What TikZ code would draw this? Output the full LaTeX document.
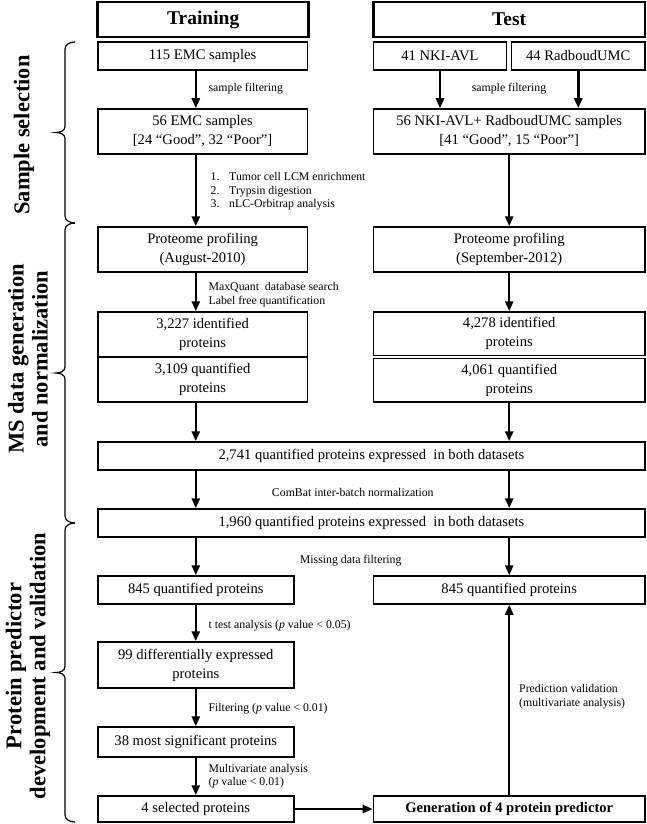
\documentclass[tikz,border=0pt]{standalone}
\usepackage{fontspec}
\setmainfont{Liberation Serif}
\usepackage{tikz}
\usetikzlibrary{arrows.meta}

\begin{document}
\begin{tikzpicture}[x=1pt,y=-1pt,
  box/.style={draw,line width=1.5pt,align=center,inner sep=0pt,font=\fontsize{14.6}{19}\selectfont},
  head/.style={draw,line width=2.8pt,inner sep=0pt,font=\fontsize{19.5}{22}\selectfont\bfseries},
  arr/.style={line width=2.5pt,-{Triangle[length=10pt,width=8pt]}},
  lab/.style={inner sep=0pt,align=left,font=\fontsize{11.8}{13.5}\selectfont},
  side/.style={rotate=90,align=center,font=\fontsize{22.5}{24}\selectfont\bfseries},
  brc/.style={line width=1.2pt}]
\useasboundingbox (0,0) rectangle (647,824);

% column heads
\node [head,minimum width=210.8,minimum height=35] (train) at (203.2,19.5) {Training};
\node [head,minimum width=271.6,minimum height=35] (test) at (509.2,19.5) {Test};

% sample selection
\node [box,minimum width=209.6,minimum height=28] (emc115) at (202.6,56) {115 EMC samples};
\node [box,minimum width=133.3,minimum height=28] (nki41) at (440,56) {41 NKI-AVL};
\node [box,minimum width=133.3,minimum height=28] (rad44) at (578.3,56) {44 RadboudUMC};
\node [box,minimum width=209.6,minimum height=45] (emc56) at (202.6,131.5) {56 EMC samples\\{}[24 “Good”, 32 “Poor”]};
\node [box,minimum width=271.6,minimum height=45] (nki56) at (509.2,131.5) {56 NKI-AVL+ RadboudUMC samples\\{}[41 “Good”, 15 “Poor”]};

% MS data
\node [box,minimum width=209.6,minimum height=45] (profL) at (202.6,249.5) {Proteome profiling\\(August-2010)};
\node [box,minimum width=271.6,minimum height=45] (profR) at (509.2,249.5) {Proteome profiling\\(September-2012)};
\node [box,minimum width=209.6,minimum height=45] (idL) at (202.6,334.5) {3,227 identified\\proteins};
\node [box,minimum width=209.6,minimum height=45] (quL) at (202.6,379.5) {3,109 quantified\\proteins};
\node [box,minimum width=271.6,minimum height=43.5] (idR) at (509.2,333.75) {4,278 identified\\proteins};
\node [box,minimum width=271.6,minimum height=43.5] (quR) at (509.2,380.25) {4,061 quantified\\proteins};
\node [box,minimum width=547.2,minimum height=28] (both2741) at (371.4,456) {2,741 quantified proteins expressed\ \ in both datasets};
\node [box,minimum width=547.2,minimum height=28] (both1960) at (371.4,523) {1,960 quantified proteins expressed\ \ in both datasets};

% predictor
\node [box,minimum width=196,minimum height=28] (q845L) at (195.8,590) {845 quantified proteins};
\node [box,minimum width=271.6,minimum height=28] (q845R) at (509.2,590) {845 quantified proteins};
\node [box,minimum width=196,minimum height=46] (diff99) at (195.8,665) {99 differentially expressed\\proteins};
\node [box,minimum width=196,minimum height=30] (sig38) at (195.8,742) {38 most significant proteins};
\node [box,minimum width=196,minimum height=26] (sel4) at (195.8,809) {4 selected proteins};
\node [box,minimum width=271.6,minimum height=26] (gen) at (509.2,809) {\bfseries Generation of 4 protein predictor};

\draw [arr] (emc115.south -| sel4) -- (emc56.north -| sel4);
\draw [arr] (nki41.south) -- (nki41.south |- nki56.north);
\draw [arr] (rad44.south) -- (rad44.south |- nki56.north);
\draw [arr] (emc56.south -| sel4) -- (profL.north -| sel4);
\draw [arr] (nki56.south) -- (profR.north);
\draw [arr] (profL.south -| sel4) -- (idL.north -| sel4);
\draw [arr] (profR.south) -- (idR.north);
\draw [arr] (quL.south -| sel4) -- (both2741.north -| sel4);
\draw [arr] (quR.south) -- (both2741.north -| quR);
\draw [arr] (both2741.south -| sel4) -- (both1960.north -| sel4);
\draw [arr] (both2741.south -| q845R) -- (both1960.north -| q845R);
\draw [arr] (both1960.south -| q845L) -- (q845L.north);
\draw [arr] (both1960.south -| q845R) -- (q845R.north);
\draw [arr] (q845L) -- (diff99);
\draw [arr] (diff99) -- (sig38);
\draw [arr] (sig38) -- (sel4);
\draw [arr] (sel4) -- (gen);
\draw [arr] (gen) -- (q845R);

% arrow labels
\node [lab,anchor=west] (sf1) at (208.4,89) {sample filtering};
\node [lab] (sf2) at (509,89) {sample filtering};
\node [lab,anchor=west] (steps) at (210.4,191.5) {\makebox[18.6pt][l]{1.}Tumor cell LCM enrichment\\\makebox[18.6pt][l]{2.}Trypsin digestion\\\makebox[18.6pt][l]{3.}nLC-Orbitrap analysis};
\node [lab,anchor=west] (mq) at (208.4,294.5) {MaxQuant\ \ database search\\Label free quantification};
\node [lab] (combat) at (352.8,492) {ComBat inter-batch normalization};
\node [lab] (missing) at (350.7,561) {Missing data filtering};
\node [lab,anchor=west] (ttest) at (208.4,626) {t test analysis (\textit{p} value < 0.05)};
\node [lab,anchor=west] (filt) at (208.4,709) {Filtering (\textit{p} value < 0.01)};
\node [lab,anchor=west] (multi) at (208.4,776) {Multivariate analysis\\(\textit{p} value < 0.01)};
\node [lab,anchor=west] (pred) at (519,696.5) {Prediction validation\\(multivariate analysis)};

% stages
\node [side] (samsel) at (24,135) {Sample selection};
\node [side] (msgen) at (28,359) {MS data generation\\and normalization};
\node [side] (ppdev) at (28,666) {Protein predictor\\development and validation};
\foreach \t/\m/\b in {42/132.5/223, 223/373/523, 523/672.5/822}
  \draw [brc] (75,\t) to[out=180,in=90] (65,\t+7) -- (65,\m-6)
    to[out=-90,in=0] (56,\m) to[out=0,in=90] (65,\m+6) -- (65,\b-7)
    to[out=-90,in=180] (75,\b);

\end{tikzpicture}
\end{document}
